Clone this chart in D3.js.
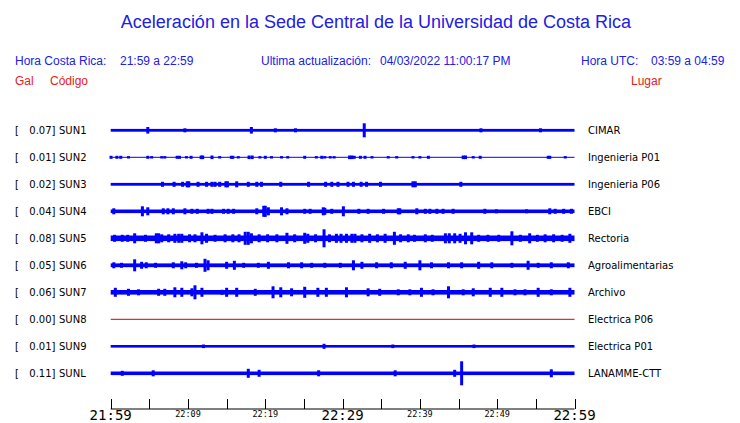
<!DOCTYPE html>
<html><head><meta charset="utf-8">
<script src="https://cdn.jsdelivr.net/npm/d3@7"></script>
<style>body{margin:0;background:#fff}svg{display:block}</style>
</head><body>
<script>
const codes = ["SUN1","SUN2","SUN3","SUN4","SUN5","SUN6","SUN7","SUN8","SUN9","SUNL"];
const places = ["CIMAR","Ingenieria P01","Ingenieria P06","EBCI","Rectoria","Agroalimentarias","Archivo","Electrica P06","Electrica P01","LANAMME-CTT"];
const gal = [0.07,0.01,0.02,0.04,0.08,0.05,0.06,0.00,0.01,0.11];
// half-amplitude of background noise for each station
const baseAmp = [1.4,0.5,1.4,1.8,2.8,1.9,2.3,0.5,1.3,1.8];
// bursts: [minute after 21:59, half-amplitude]
const ev1 = [[4.8,3.3],[9.6,2],[18.2,3.3],[21.3,2],[23.9,2],[32.8,7],[47.9,2],[55.6,2]];
const ev2 = [[0.04,1.5],[0.8,1.5],[1.3,1.5],[2.3,1.2],[4.8,1.5],[5.3,1.2],[6.6,1.2],[7.0,1.2],[8.6,1.5],[8.9,1.5],[9.8,1.2],[10.4,1.5],[11.7,1.8],[11.9,1.8],[13.1,1.8],[14.1,1.2],[15.6,1.5],[15.8,1.5],[16.5,1.2],[17.9,1.8],[18.3,1.8],[19.3,1.2],[20.0,1.5],[20.8,1.2],[22.1,1.2],[22.9,1.2],[25.1,1.5],[26.6,1.2],[27.3,1.5],[27.7,1.2],[28.4,1.2],[28.9,1.2],[30.9,1.8],[31.2,1.8],[31.5,1.5],[32.3,1.5],[32.9,1.5],[33.8,1.2],[35.9,1.2],[37.0,1.2],[39.1,1.2],[40.0,1.2],[41.1,1.5],[45.6,1.8],[45.9,1.8],[46.9,1.2],[47.8,1.5],[56.6,1.5],[56.8,1.5],[58.8,1.2]];
const ev3 = [[6.7,2.5],[8.2,2.5],[9.3,2.5],[9.9,3],[10.1,3],[11.3,2.5],[12.4,2.5],[13.1,2.5],[13.5,2.5],[14.1,2.5],[14.9,3],[15.1,3],[16.3,3],[17.8,2.5],[18.9,2.5],[19.5,2.5],[22.0,2.5],[25.6,2.5],[27.8,2.5],[28.6,2.5],[29.4,2.5],[30.7,2.5],[31.4,2.5],[32.4,2.5],[33.1,2.5],[34.9,2.5],[39.1,3],[39.4,3],[45.3,2.5]];
const ev4 = [[0.4,3],[4.1,5],[4.8,4],[6.8,3],[7.4,3],[8.1,3],[9.6,3],[10.5,2.5],[11.2,2.5],[12.6,2.5],[13.1,2.5],[14.6,2.5],[15.2,2.5],[15.9,2.5],[18.9,3],[19.8,5.5],[20.0,5.5],[20.4,4],[22.1,4],[22.8,3],[25.1,2.5],[25.8,2.5],[27.5,4],[27.7,3.5],[28.6,2.5],[30.1,5],[32.1,2.5],[33.3,2.5],[35.3,2.5],[37.2,3],[37.4,3],[39.6,3],[40.7,2.5],[41.3,2.5],[42.2,2.5],[43.0,2.5],[44.3,2.5],[48.4,2.5],[49.9,2],[53.8,2],[56.8,3],[57.5,2.5],[58.6,2.5],[59.6,2.5]];
const ev5 = [[0.5,3.5],[1.5,3.5],[2.2,3.5],[3.1,5],[4.5,3.5],[5.9,5],[6.2,5],[6.6,4],[7.5,4],[8.3,4.5],[8.8,4.5],[9.2,4.5],[10.2,4],[10.9,4],[11.8,6],[12.4,4.5],[13.5,3.5],[14.8,4],[15.8,4],[16.6,4],[17.4,6.5],[17.8,6.5],[18.2,5],[19.2,4],[20.3,4],[21.5,4],[22.8,5.5],[23.8,4],[25.1,5.5],[25.5,4.5],[26.5,4],[27.6,9],[28.3,4],[29.2,4.5],[29.8,4.5],[30.5,4.5],[31.2,4.5],[31.6,4.5],[32.5,4],[33.5,4.5],[34.5,4],[35.5,4.5],[36.7,6.5],[37.5,4],[38.5,4],[39.3,3.5],[40.7,4],[41.6,3.5],[43.3,5],[43.8,5],[44.5,5],[45.2,4.5],[45.9,6],[46.7,6],[47.6,3.5],[48.8,3.5],[50.2,3.5],[51.9,7],[53.0,3.5],[54.2,5],[55.2,3.5],[56.2,4],[57.3,4],[58.4,3.5],[59.4,4.5]];
const ev6 = [[0.4,3],[1.4,2.5],[3.1,6],[4.0,3.5],[4.6,3],[5.8,2.5],[8.1,3],[9.2,4],[9.7,3],[11.1,2.5],[12.2,6.5],[12.6,5],[15.0,3.5],[16.0,4.5],[17.2,2.5],[19.1,2.5],[20.4,3.5],[23.0,3],[24.7,3],[26.0,2.5],[27.7,2.5],[29.7,2.5],[31.4,5],[32.5,3.5],[34.4,3],[36.3,3],[38.1,3.5],[40.0,5],[41.5,3],[43.7,3],[45.4,3],[47.6,3.5],[49.3,3],[51.9,2.5],[54.0,4.5],[55.3,2.5],[57.0,3],[59.2,3]];
const ev7 = [[0.6,4.5],[2.3,3.5],[3.6,3],[6.2,3.5],[7.0,3.5],[8.3,5],[9.2,4.5],[10.5,4],[10.9,7],[11.8,4.5],[14.4,2.5],[15.0,4.5],[16.3,4.5],[18.7,3.5],[21.0,6],[22.0,5],[23.4,4],[25.1,5.5],[26.8,4.5],[27.9,4.5],[30.5,5],[33.3,4],[34.8,3.5],[37.2,3],[38.7,3],[40.2,4.5],[41.7,3],[43.7,6],[45.6,3],[46.9,4],[49.1,4.5],[50.6,4.5],[52.3,3],[53.6,3],[55.3,4.5],[57.0,3],[59.4,4.5]];
const ev8 = [];
const ev9 = [[12.0,1.8],[27.6,2.5],[36.5,1.8],[47.0,1.8]];
const ev10 = [[1.5,2.5],[5.5,3],[17.8,4.5],[19.2,3.5],[26.9,3],[36.8,3],[44.5,3.5],[45.4,12],[57.0,4]];
const events = [ev1,ev2,ev3,ev4,ev5,ev6,ev7,ev8,ev9,ev10];
const traceColors = ["#0000ff","#0000ff","#0000ff","#0000ff","#0000ff","#0000ff","#0000ff","#d00000","#0000ff","#0000ff"];
const tickMinutes = d3.range(0,61,5);
const tickLabels = ["21:59","22:04","22:09","22:14","22:19","22:24","22:29","22:34","22:39","22:44","22:49","22:54","22:59"];
const majorLabels = ["21:59","22:29","22:59"];
const minorLabels = ["22:09","22:19","22:39","22:49"];

const W=740,H=423;
const svg=d3.select("body").append("svg").attr("width",W).attr("height",H);
const blue="#2020e6", red="#e62020";
const sans="'Liberation Sans', Arial, sans-serif";
const dv="'DejaVu Sans', sans-serif";
const mono="'DejaVu Sans Mono', monospace";

svg.append("text").attr("x",376).attr("y",28).attr("text-anchor","middle")
  .attr("font-family",sans).attr("font-size",18).attr("fill",blue)
  .text("Aceleración en la Sede Central de la Universidad de Costa Rica");

function txt(x,y,s,fill,anchor){svg.append("text").attr("x",x).attr("y",y).attr("font-family",sans)
  .attr("font-size",12).attr("fill",fill).attr("text-anchor",anchor||"start").text(s);}
txt(15,65,"Hora Costa Rica:",blue);
txt(120,65,"21:59 a 22:59",blue);
txt(261,65,"Ultima actualización:",blue);
txt(380,65,"04/03/2022 11:00:17 PM",blue);
txt(581,65,"Hora UTC:",blue);
txt(651,65,"03:59 a 04:59",blue);
txt(15,85,"Gal",red);
txt(50,85,"Código",red);
txt(631,85,"Lugar",red);

const x=d3.scaleLinear().domain([0,60]).range([110.7,574.5]);
const y=d3.scalePoint().domain(codes).range([130.3,373.3]);
const a=d3.scaleLinear().domain([0,10]).range([0,10]);

codes.forEach((c,i)=>{
  const yc=y(c);
  const g=svg.append("g");
  g.append("text").attr("x",15).attr("y",yc+4).attr("font-family",dv).attr("font-size",10).attr("fill","#000").text("[");
  g.append("text").attr("x",55.5).attr("y",yc+4).attr("text-anchor","end").attr("font-family",dv).attr("font-size",10).attr("fill","#000").text(gal[i].toFixed(2)+"]");
  g.append("text").attr("x",59).attr("y",yc+4).attr("font-family",dv).attr("font-size",10).attr("fill","#000").text(c);
  g.append("text").attr("x",588).attr("y",yc+4).attr("font-family",dv).attr("font-size",10).attr("fill","#000").text(places[i]);
  const col=traceColors[i];
  g.append("rect").attr("x",x(0)).attr("width",x(60)-x(0))
    .attr("y",yc-a(baseAmp[i])).attr("height",Math.max(1,2*a(baseAmp[i]))).attr("fill",col);
  g.selectAll("rect.ev").data(events[i]).join("rect").attr("class","ev")
    .attr("x",d=>x(d[0])-1.5).attr("width",3)
    .attr("y",d=>yc-a(d[1])).attr("height",d=>2*a(d[1])).attr("fill",col);
});

// time axis
const ax=svg.append("g");
ax.append("line").attr("x1",x(0)).attr("x2",x(60)).attr("y1",409).attr("y2",409).attr("stroke","#000");
ax.selectAll("line.t").data(tickMinutes).join("line").attr("class","t")
  .attr("x1",d=>Math.round(x(d))+0.5).attr("x2",d=>Math.round(x(d))+0.5).attr("y1",399).attr("y2",409).attr("stroke","#000");
ax.selectAll("text").data(tickMinutes).join("text")
  .attr("x",d=>x(d)).attr("text-anchor","middle").attr("font-family",mono).attr("fill","#000")
  .attr("y",(d,i)=>majorLabels.includes(tickLabels[i])?419.5:417)
  .attr("font-size",(d,i)=>majorLabels.includes(tickLabels[i])?14:8.5)
  .text((d,i)=>(majorLabels.includes(tickLabels[i])||minorLabels.includes(tickLabels[i]))?tickLabels[i]:"");
</script>
</body></html>
